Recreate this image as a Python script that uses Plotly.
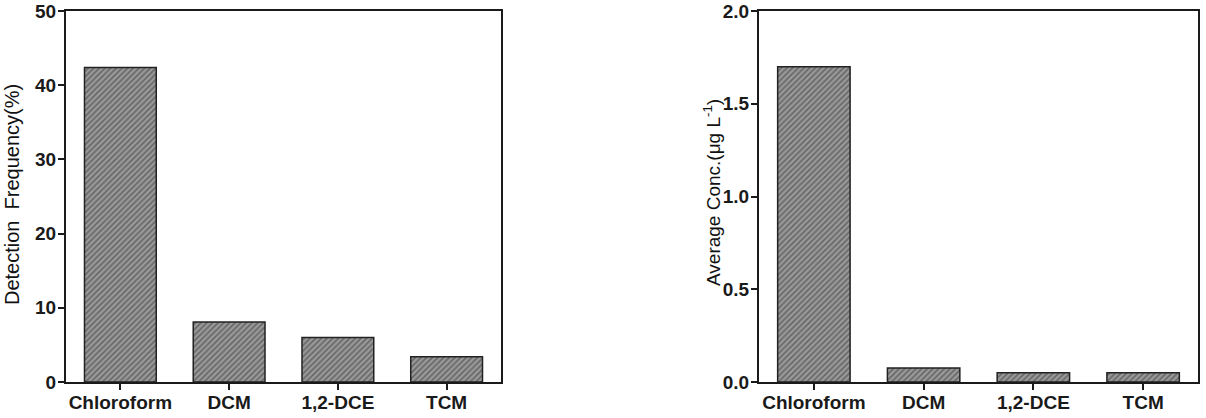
import plotly.graph_objects as go

categories = ["Chloroform", "DCM", "1,2-DCE", "TCM"]
detection_frequency = [42.4, 8.1, 6.0, 3.4]
average_conc = [1.70, 0.075, 0.05, 0.05]

left_ticks = [0, 10, 20, 30, 40, 50]
right_ticks = [0.0, 0.5, 1.0, 1.5, 2.0]
right_ticklabels = ["0.0", "0.5", "1.0", "1.5", "2.0"]

W, H = 1206, 418
FONT = "Liberation Sans, Arial, sans-serif"
AX = "#1a1a1a"

pattern = dict(shape="/", fgcolor="#333333", bgcolor="#999999", size=4, solidity=0.4)
bar_marker = dict(color="#999999", pattern=pattern, line=dict(color="#222222", width=1.5))

fig = go.Figure()
fig.add_trace(go.Bar(x=categories, y=detection_frequency, marker=bar_marker,
                     xaxis="x", yaxis="y", showlegend=False))
fig.add_trace(go.Bar(x=categories, y=average_conc, marker=bar_marker,
                     xaxis="x2", yaxis="y2", showlegend=False))

ydom = [(H - 382) / H, (H - 11) / H]

common_x = dict(showline=True, linecolor=AX, linewidth=2, mirror=True,
                ticks="outside", ticklen=6, tickwidth=2, tickcolor=AX,
                showgrid=False, zeroline=False, range=[-0.5, 3.5], automargin=False,
                ticklabelstandoff=-4,
                tickfont=dict(family=FONT, size=19, color="#1a1a1a", weight="bold"))
common_y = dict(showline=True, linecolor=AX, linewidth=2, mirror=True,
                ticks="outside", ticklen=6, tickwidth=2, tickcolor=AX,
                showgrid=False, zeroline=False, domain=ydom, automargin=False,
                ticklabelstandoff=-2,
                tickfont=dict(family=FONT, size=19, color="#1a1a1a", weight="bold"))

fig.update_layout(
    width=W, height=H,
    margin=dict(l=0, r=0, t=0, b=0, pad=0, autoexpand=False),
    paper_bgcolor="white", plot_bgcolor="white",
    bargap=0.34,
    xaxis=dict(common_x, domain=[66 / W, 501 / W], anchor="y"),
    yaxis=dict(common_y, range=[0, 50], tickvals=left_ticks, anchor="x"),
    xaxis2=dict(common_x, domain=[759 / W, 1198 / W], anchor="y2"),
    yaxis2=dict(common_y, range=[0, 2.0], tickvals=right_ticks,
                ticktext=right_ticklabels, anchor="x2"),
    annotations=[
        dict(text="Detection  Frequency(%)", textangle=-90, xref="paper", yref="paper",
             x=12 / W, y=(H - 195) / H, xanchor="center", yanchor="middle",
             showarrow=False, font=dict(family=FONT, size=20, color="#111111")),
        dict(text="Average Conc.(μg L<sup>-1</sup>)", textangle=-90, xref="paper", yref="paper",
             x=712 / W, y=(H - 193) / H, xanchor="center", yanchor="middle",
             showarrow=False, font=dict(family=FONT, size=19, color="#111111")),
    ],
)

fig.write_html("out.html")
